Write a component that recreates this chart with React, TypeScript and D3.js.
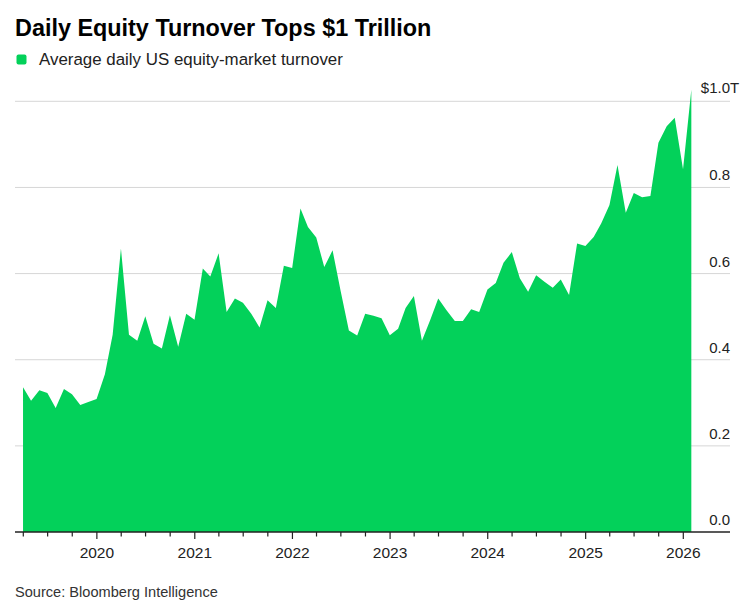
import { useMemo } from "react";
import * as d3 from "d3";

// month-end observations, in $ trillions
const months = [
  "2019-03", "2019-04", "2019-05", "2019-06", "2019-07", "2019-08", "2019-09", "2019-10", "2019-11", "2019-12",
  "2020-01", "2020-02", "2020-03", "2020-04", "2020-05", "2020-06", "2020-07", "2020-08", "2020-09", "2020-10", "2020-11", "2020-12",
  "2021-01", "2021-02", "2021-03", "2021-04", "2021-05", "2021-06", "2021-07", "2021-08", "2021-09", "2021-10", "2021-11", "2021-12",
  "2022-01", "2022-02", "2022-03", "2022-04", "2022-05", "2022-06", "2022-07", "2022-08", "2022-09", "2022-10", "2022-11", "2022-12",
  "2023-01", "2023-02", "2023-03", "2023-04", "2023-05", "2023-06", "2023-07", "2023-08", "2023-09", "2023-10", "2023-11", "2023-12",
  "2024-01", "2024-02", "2024-03", "2024-04", "2024-05", "2024-06", "2024-07", "2024-08", "2024-09", "2024-10", "2024-11", "2024-12",
  "2025-01", "2025-02", "2025-03", "2025-04", "2025-05", "2025-06", "2025-07", "2025-08", "2025-09", "2025-10", "2025-11", "2025-12",
  "2026-01",
];

const turnover = [
  0.336, 0.305, 0.329, 0.323, 0.288, 0.332, 0.32, 0.295, 0.302, 0.309,
  0.366, 0.458, 0.658, 0.458, 0.444, 0.501, 0.437, 0.426, 0.503, 0.43, 0.507, 0.493,
  0.612, 0.593, 0.647, 0.511, 0.542, 0.532, 0.507, 0.475, 0.538, 0.52, 0.618, 0.613,
  0.751, 0.708, 0.684, 0.615, 0.654, 0.56, 0.468, 0.456, 0.507, 0.502, 0.496, 0.457,
  0.472, 0.52, 0.548, 0.444, 0.492, 0.542, 0.515, 0.49, 0.49, 0.517, 0.511, 0.563,
  0.578, 0.625, 0.65, 0.589, 0.558, 0.596, 0.581, 0.567, 0.586, 0.55, 0.67, 0.664,
  0.685, 0.716, 0.759, 0.852, 0.741, 0.787, 0.777, 0.78, 0.904, 0.942, 0.962, 0.842,
  1.027,
];

const yTicks = [0, 0.2, 0.4, 0.6, 0.8, 1.0];
const yearLabels = ["2020", "2021", "2022", "2023", "2024", "2025", "2026"];

const GREEN = "#03d15a";
const FONT = "'Liberation Sans', Arial, Helvetica, sans-serif";

export default function App() {
  const width = 750;
  const height = 613;

  const points = useMemo(
    () =>
      months.map((m, i) => {
        const [yy, mm] = m.split("-").map(Number);
        return { date: new Date(yy, mm, 0), value: turnover[i] }; // last day of month
      }),
    []
  );

  const x = d3
    .scaleTime()
    .domain([new Date(2019, 3, 1), new Date(2026, 0, 1)])
    .range([23.3, 683.3]);

  const y = d3.scaleLinear().domain([0, 1]).range([532, 101.3]);

  const area = d3
    .area<{ date: Date; value: number }>()
    .x((d) => x(d.date))
    .y0(y(0))
    .y1((d) => y(d.value));

  const quarterTicks = d3.timeMonth.every(3)!.range(new Date(2019, 3, 1), new Date(2026, 0, 2));

  const gridLeft = 15;
  const gridRight = 730;

  return (
    <svg
      width={width}
      height={height}
      style={{ position: "absolute", left: 0, top: 0, background: "#fff" }}
      fontFamily={FONT}
    >
      <text x={15} y={36} fontSize={23.4} fontWeight={700} fill="#000">
        Daily Equity Turnover Tops $1 Trillion
      </text>

      <rect x={16.5} y={54.5} width={10} height={10} rx={2} fill={GREEN} />
      <text x={39} y={64.5} fontSize={16.9} fill="#222">
        Average daily US equity-market turnover
      </text>

      {/* grid */}
      {yTicks
        .filter((t) => t > 0)
        .map((t) => (
          <line
            key={t}
            x1={gridLeft}
            x2={gridRight}
            y1={y(t)}
            y2={y(t)}
            stroke="#d6d6d6"
            strokeWidth={1}
          />
        ))}

      <path d={area(points) ?? ""} fill={GREEN} />

      {/* y labels */}
      {yTicks.map((t) =>
        t === 1 ? (
          <g key={t}>
            <text x={730} y={y(t) - 8} fontSize={15} fill="#222" textAnchor="end">
              $1.0
            </text>
            <text x={730} y={y(t) - 8} fontSize={15} fill="#222">
              T
            </text>
          </g>
        ) : (
          <text key={t} x={730} y={y(t) - 7} fontSize={15} fill="#222" textAnchor="end">
            {t.toFixed(1)}
          </text>
        )
      )}

      {/* x axis */}
      <line x1={gridLeft} x2={gridRight} y1={y(0)} y2={y(0)} stroke="#222" strokeWidth={1.3} />
      {quarterTicks.map((d) => {
        const major = d.getMonth() === 0;
        return (
          <line
            key={d.getTime()}
            x1={x(d)}
            x2={x(d)}
            y1={y(0)}
            y2={y(0) + (major ? 7 : 4.5)}
            stroke="#222"
            strokeWidth={1.2}
          />
        );
      })}
      {yearLabels.map((lab) => (
        <text
          key={lab}
          x={x(new Date(+lab, 0, 1))}
          y={557.5}
          fontSize={15.5}
          fill="#222"
          textAnchor="middle"
        >
          {lab}
        </text>
      ))}

      <text x={15} y={597} fontSize={14.6} fill="#333">
        Source: Bloomberg Intelligence
      </text>
    </svg>
  );
}
